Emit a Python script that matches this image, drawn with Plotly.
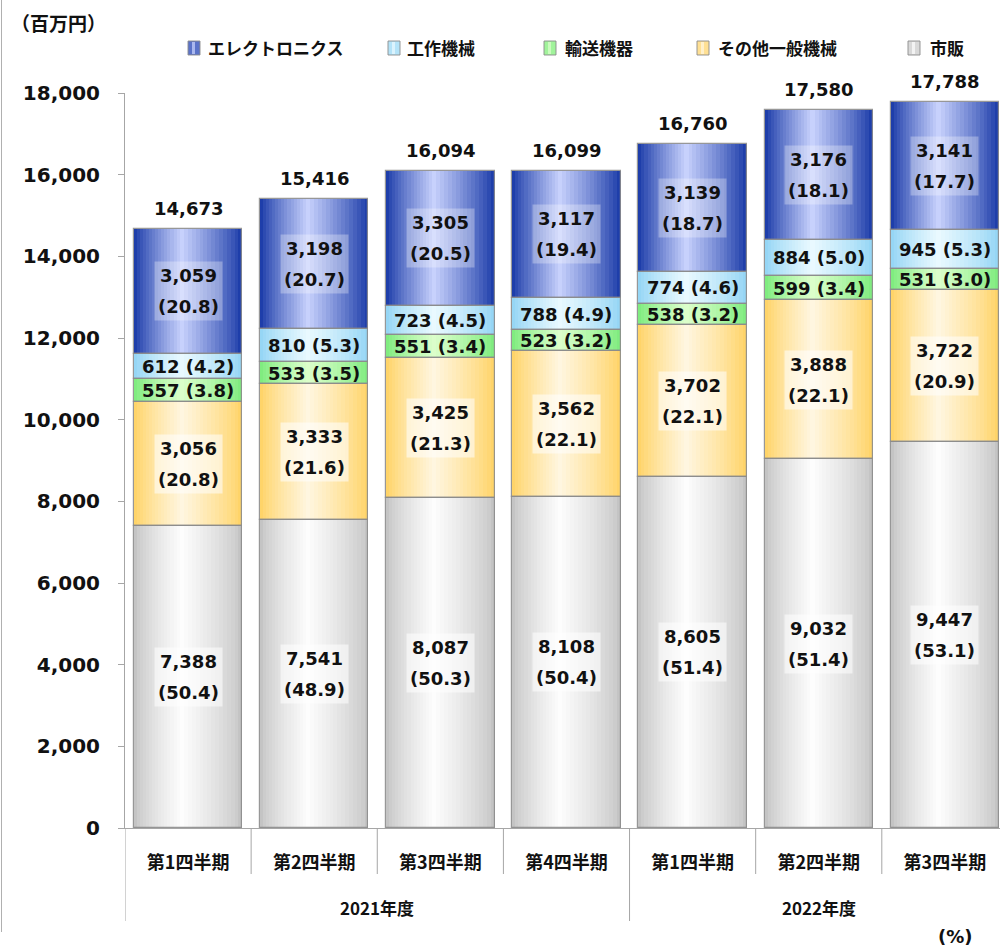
import plotly.graph_objects as go

# ---------------- data ----------------
years = ["2021年度"] * 4 + ["2022年度"] * 3
quarters = ["第1四半期", "第2四半期", "第3四半期", "第4四半期",
            "第1四半期", "第2四半期", "第3四半期"]
totals = [14673, 15416, 16094, 16099, 16760, 17580, 17788]

series_names = ["エレクトロニクス", "工作機械", "輸送機器", "その他一般機械", "市販"]
electronics = [3059, 3198, 3305, 3117, 3139, 3176, 3141]
electronics_pct = [20.8, 20.7, 20.5, 19.4, 18.7, 18.1, 17.7]
machine_tools = [612, 810, 723, 788, 774, 884, 945]
machine_tools_pct = [4.2, 5.3, 4.5, 4.9, 4.6, 5.0, 5.3]
transport = [557, 533, 551, 523, 538, 599, 531]
transport_pct = [3.8, 3.5, 3.4, 3.2, 3.2, 3.4, 3.0]
other_general = [3056, 3333, 3425, 3562, 3702, 3888, 3722]
other_general_pct = [20.8, 21.6, 21.3, 22.1, 22.1, 22.1, 20.9]
market = [7388, 7541, 8087, 8108, 8605, 9032, 9447]
market_pct = [50.4, 48.9, 50.3, 50.4, 51.4, 51.4, 53.1]

y_unit_label = "（百万円）"
pct_unit_label = "(%)"

# ---------------- styles ----------------
NUM_FONT = "DejaVu Sans, Noto Sans CJK JP, sans-serif"
JP_FONT = "Noto Sans CJK JP, DejaVu Sans, sans-serif"
AXIS_COL = "#a6a6a6"
BAR_W = 0.86
N_LAYERS = 16
CENTER = 0.44

# plot-area geometry in pixels (used only to place paper-referenced decorations)
PL, PT, PW, PH = 125, 93, 875, 735


def px(xp):
    return (xp - PL) / PW


def py(yp):
    return (PT + PH - yp) / PH


# stacking order bottom -> top, with gradient edge/center colours and profile exponent
stack = [
    # name, values, pct, edge rgb, center rgb, big label?, box alpha, gamma
    (series_names[4], market, market_pct, (196, 196, 196), (255, 255, 255), True, 0.55, 0.75),
    (series_names[3], other_general, other_general_pct, (255, 212, 105), (255, 247, 228), True, 0.55, 0.85),
    (series_names[2], transport, transport_pct, (128, 236, 128), (222, 255, 205), False, 0, 0.85),
    (series_names[1], machine_tools, machine_tools_pct, (150, 214, 245), (236, 250, 255), False, 0, 0.85),
    (series_names[0], electronics, electronics_pct, (30, 62, 170), (205, 214, 255), True, 0.3, 0.9),
]

n = len(quarters)
xpos = list(range(n))

fig = go.Figure()
annotations = []
shapes = []

bases = {}
cum = [0] * n
for name, vals, *_ in stack:
    bases[name] = list(cum)
    cum = [c + v for c, v in zip(cum, vals)]


def mix(a, b, f):
    return "rgb(%d,%d,%d)" % tuple(round(a[i] + (b[i] - a[i]) * f) for i in range(3))


for name, vals, pct, edge, center, big, alpha, gamma in reversed(stack):
    base = bases[name]
    for k in range(N_LAYERS):
        t = k / (N_LAYERS - 1) * 0.96
        left = -BAR_W / 2 + t * CENTER * BAR_W
        right = BAR_W / 2 - t * (1 - CENTER) * BAR_W
        col = mix(edge, center, t ** gamma)
        fig.add_trace(go.Bar(
            x=xpos, y=vals, base=base,
            width=[right - left] * n, offset=left,
            marker=dict(color=col, line=dict(width=0)),
            name=name, legendgroup=name, showlegend=False,
            hoverinfo="skip",
        ))
    fig.add_trace(go.Bar(
        x=xpos, y=vals, base=base, width=[BAR_W] * n, offset=-BAR_W / 2,
        marker=dict(color="rgba(0,0,0,0)", line=dict(width=1.2, color="rgba(140,140,140,0.9)")),
        name=name, legendgroup=name, showlegend=False,
        hovertemplate="%{y:,}<extra>" + name + "</extra>",
    ))

    for i in range(n):
        ymid = base[i] + vals[i] / 2
        if big:
            txt = ("<span style='font-size:18px'>%s</span><br>"
                   "<span style='font-size:18px'>(%.1f)</span>") % (f"{vals[i]:,}", pct[i])
            annotations.append(dict(
                x=i, y=ymid, xref="x", yref="y", text=txt, showarrow=False,
                font=dict(family=NUM_FONT, size=24, color="#111", weight="bold"),
                bgcolor="rgba(255,255,255,%.2f)" % alpha, borderpad=3,
            ))
        else:
            annotations.append(dict(
                x=i, y=ymid, xref="x", yref="y", text=f"{vals[i]:,} ({pct[i]:.1f})",
                showarrow=False,
                font=dict(family=NUM_FONT, size=18, color="#111", weight="bold"),
            ))

# totals
for i in range(n):
    annotations.append(dict(
        x=i, y=totals[i], xref="x", yref="y", text=f"{totals[i]:,}",
        showarrow=False, yanchor="bottom", yshift=8,
        font=dict(family=NUM_FONT, size=18, color="#111", weight="bold"),
    ))

# year group labels + dividers
groups = []
for i, yname in enumerate(years):
    if not groups or groups[-1][0] != yname:
        groups.append([yname, []])
    groups[-1][1].append(i)
for yname, idx in groups:
    annotations.append(dict(
        x=sum(idx) / len(idx), y=py(908), xref="x", yref="paper", text=yname,
        showarrow=False, yanchor="middle",
        font=dict(family=JP_FONT, size=17, color="#111", weight="bold"),
    ))
    shapes.append(dict(type="line", xref="x", yref="paper",
                       x0=idx[0] - 0.5, x1=idx[0] - 0.5, y0=0, y1=py(921),
                       line=dict(color=AXIS_COL, width=1)))
    for j in idx[:-1]:
        shapes.append(dict(type="line", xref="x", yref="paper",
                           x0=j + 0.5, x1=j + 0.5, y0=0, y1=py(874),
                           line=dict(color=AXIS_COL, width=1)))

annotations.append(dict(
    x=px(9), y=py(22), xref="paper", yref="paper", text=y_unit_label,
    showarrow=False, xanchor="left", yanchor="middle",
    font=dict(family=JP_FONT, size=19, color="#111", weight="bold"),
))
annotations.append(dict(
    x=px(955), y=py(936), xref="paper", yref="paper", text=pct_unit_label,
    showarrow=False, xanchor="center", yanchor="middle",
    font=dict(family=NUM_FONT, size=18, color="#111", weight="bold"),
))

# custom legend (Excel-like spacing)
legend_sym_x = [188, 388, 544, 697, 908]
legend_txt_x = [206, 405, 563, 716, 928]
leg_series = list(reversed(stack))
for (name, vals, pct, edge, center, big, alpha, gamma), sx, tx in zip(leg_series, legend_sym_x, legend_txt_x):
    shapes.append(dict(type="rect", xref="paper", yref="paper",
                       x0=px(sx), x1=px(sx + 12), y0=py(55), y1=py(41),
                       fillcolor=mix(edge, center, 0.35),
                       line=dict(color="rgba(140,140,140,0.9)", width=1)))
    shapes.append(dict(type="rect", xref="paper", yref="paper",
                       x0=px(sx + 4), x1=px(sx + 7), y0=py(54), y1=py(42),
                       fillcolor=mix(edge, center, 0.8), line=dict(width=0)))
    annotations.append(dict(
        x=px(tx), y=py(48), xref="paper", yref="paper", text=name,
        showarrow=False, xanchor="left", yanchor="middle",
        font=dict(family=JP_FONT, size=17, color="#111", weight="bold"),
    ))

# left frame line
shapes.append(dict(type="line", xref="paper", yref="paper",
                   x0=px(1.5), x1=px(1.5), y0=py(932), y1=py(0),
                   line=dict(color="#b0b0b0", width=1)))

fig.update_layout(
    width=1000, height=947,
    margin=dict(l=PL, r=1000 - PL - PW, t=PT, b=947 - PT - PH),
    paper_bgcolor="white", plot_bgcolor="white",
    barmode="overlay", bargap=0,
    showlegend=False,
    xaxis=dict(range=[-0.5, 6.437], tickvals=xpos, ticktext=quarters,
               showline=True, linecolor=AXIS_COL, linewidth=1,
               ticks="", showgrid=False, zeroline=False, ticklabelstandoff=18,
               tickfont=dict(family=JP_FONT, size=18, color="#111", weight="bold")),
    yaxis=dict(range=[0, 18000], tick0=0, dtick=2000, tickformat=",d",
               showline=True, linecolor=AXIS_COL, linewidth=1,
               ticks="outside", ticklen=6, tickcolor=AXIS_COL,
               showgrid=False, zeroline=False, ticklabelstandoff=14,
               tickfont=dict(family=NUM_FONT, size=20, color="#111", weight="bold")),
    annotations=annotations,
    shapes=shapes,
)

fig.write_html("out.html")
